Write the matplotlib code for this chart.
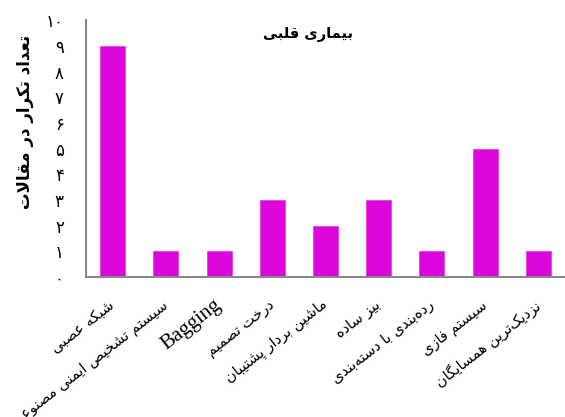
import matplotlib
matplotlib.use("Agg")
import matplotlib.pyplot as plt

# ---- data ----
title = "بیماری قلبی"
ylabel = "تعداد تکرار در مقالات"
categories = [
    "شبکه عصبی",
    "سیستم تشخیص ایمنی مصنوعی",
    "Bagging",
    "درخت تصمیم",
    "ماشین بردار پشتیبان",
    "بیز ساده",
    "رده‌بندی با دسته‌بندی",
    "سیستم فازی",
    "نزدیک‌ترین همسایگان",
]
counts = [9, 1, 1, 3, 2, 3, 1, 5, 1]
yticks = [0, 1, 2, 3, 4, 5, 6, 7, 8, 9, 10]
ytick_labels = ["۰", "۱", "۲", "۳", "۴", "۵", "۶", "۷", "۸", "۹", "۱۰"]

# ---- minimal Arabic/Persian shaping (presentation forms + visual order) ----
# letter: (isolated, final, initial, medial); None where the form does not exist
FORMS = {
    "ا": (0xFE8D, 0xFE8E, None, None),
    "آ": (0xFE81, 0xFE82, None, None),
    "ب": (0xFE8F, 0xFE90, 0xFE91, 0xFE92),
    "پ": (0xFB56, 0xFB57, 0xFB58, 0xFB59),
    "ت": (0xFE95, 0xFE96, 0xFE97, 0xFE98),
    "ث": (0xFE99, 0xFE9A, 0xFE9B, 0xFE9C),
    "ج": (0xFE9D, 0xFE9E, 0xFE9F, 0xFEA0),
    "چ": (0xFB7A, 0xFB7B, 0xFB7C, 0xFB7D),
    "ح": (0xFEA1, 0xFEA2, 0xFEA3, 0xFEA4),
    "خ": (0xFEA5, 0xFEA6, 0xFEA7, 0xFEA8),
    "د": (0xFEA9, 0xFEAA, None, None),
    "ذ": (0xFEAB, 0xFEAC, None, None),
    "ر": (0xFEAD, 0xFEAE, None, None),
    "ز": (0xFEAF, 0xFEB0, None, None),
    "ژ": (0xFB8A, 0xFB8B, None, None),
    "س": (0xFEB1, 0xFEB2, 0xFEB3, 0xFEB4),
    "ش": (0xFEB5, 0xFEB6, 0xFEB7, 0xFEB8),
    "ص": (0xFEB9, 0xFEBA, 0xFEBB, 0xFEBC),
    "ض": (0xFEBD, 0xFEBE, 0xFEBF, 0xFEC0),
    "ط": (0xFEC1, 0xFEC2, 0xFEC3, 0xFEC4),
    "ظ": (0xFEC5, 0xFEC6, 0xFEC7, 0xFEC8),
    "ع": (0xFEC9, 0xFECA, 0xFECB, 0xFECC),
    "غ": (0xFECD, 0xFECE, 0xFECF, 0xFED0),
    "ف": (0xFED1, 0xFED2, 0xFED3, 0xFED4),
    "ق": (0xFED5, 0xFED6, 0xFED7, 0xFED8),
    "ک": (0xFB8E, 0xFB8F, 0xFB90, 0xFB91),
    "گ": (0xFB92, 0xFB93, 0xFB94, 0xFB95),
    "ل": (0xFEDD, 0xFEDE, 0xFEDF, 0xFEE0),
    "م": (0xFEE1, 0xFEE2, 0xFEE3, 0xFEE4),
    "ن": (0xFEE5, 0xFEE6, 0xFEE7, 0xFEE8),
    "و": (0xFEED, 0xFEEE, None, None),
    "ه": (0xFEE9, 0xFEEA, 0xFEEB, 0xFEEC),
    "ی": (0xFBFC, 0xFBFD, 0xFBFE, 0xFBFF),
}


def joins_forward(ch):
    return ch in FORMS and FORMS[ch][2] is not None


def shape(text):
    if not any(ch in FORMS for ch in text):
        return text
    out = []
    i = 0
    n = len(text)
    while i < n:
        ch = text[i]
        if ch not in FORMS:
            if ch != "\u200c":
                out.append(ch)
            i += 1
            continue
        prev_join = i > 0 and joins_forward(text[i - 1])
        nxt = text[i + 1] if i + 1 < n else ""
        if ch == "ل" and nxt == "ا":
            out.append(chr(0xFEFC if prev_join else 0xFEFB))
            i += 2
            continue
        next_join = joins_forward(ch) and nxt in FORMS
        iso, fin, ini, med = FORMS[ch]
        if prev_join and next_join:
            code = med
        elif prev_join:
            code = fin
        elif next_join:
            code = ini
        else:
            code = iso
        out.append(chr(code))
        i += 1
    return "".join(reversed(out))


# ---- figure ----
fig = plt.figure(figsize=(5.65, 4.17), dpi=100)
ax = fig.add_axes([86 / 565, 1 - 277 / 417, 1 - 86 / 565, (277 - 20.3) / 417])

x = list(range(len(categories)))
ax.bar(x, counts, width=0.47, color="#DC06DC", edgecolor="#E640E6", linewidth=0.6)

ax.set_xlim(-0.5, len(categories) - 0.5)
ax.set_ylim(0, 10)

for side in ("top", "right"):
    ax.spines[side].set_visible(False)
for side in ("left", "bottom"):
    ax.spines[side].set_color("#898989")
    ax.spines[side].set_linewidth(1.5)

ax.set_yticks(yticks)
ax.set_yticklabels(ytick_labels, fontsize=12, family="DejaVu Sans")
ax.tick_params(axis="y", length=0, pad=16)

ax.set_xticks(x)
ax.set_xticklabels([shape(c) for c in categories], rotation=38, ha="right",
                   va="center", rotation_mode="anchor", fontsize=10.5,
                   family="DejaVu Sans")
ax.tick_params(axis="x", length=0, pad=19)
for lbl, cat in zip(ax.get_xticklabels(), categories):
    if cat.isascii():
        lbl.set_family("Liberation Serif")
        lbl.set_fontsize(15)

fig.text(308 / 565, 1 - 35 / 417, shape(title), ha="center", va="center",
         fontsize=10.5, fontweight="bold", family="DejaVu Sans")
fig.text(25 / 565, 1 - 122 / 417, shape(ylabel), ha="center", va="center",
         rotation=90, fontsize=12, fontweight="bold", family="DejaVu Sans")

fig.savefig("out.png", dpi=100)
